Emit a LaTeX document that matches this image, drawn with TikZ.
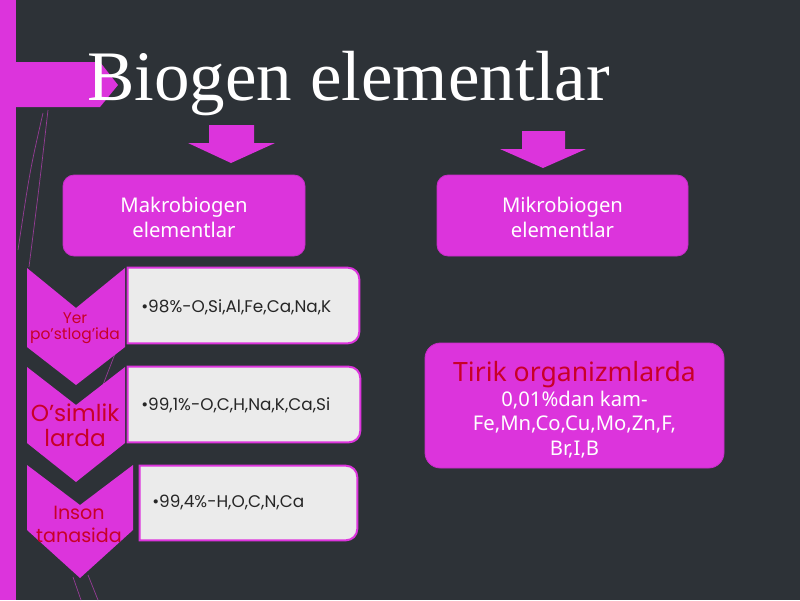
\documentclass[tikz,border=0pt]{standalone}
\usepackage{fontspec}
\setmainfont{Liberation Serif}
\newfontfamily\notosans{Noto Sans}
\newfontfamily\poppins{Poppins}
\usetikzlibrary{positioning, fit}
\definecolor{slatebg}{RGB}{45,50,55}
\definecolor{mymagenta}{RGB}{220,52,220}
\definecolor{myedge}{RGB}{200,45,200}
\definecolor{myred}{RGB}{200,0,40}
\definecolor{mygray}{RGB}{235,235,235}
\definecolor{mywisp}{RGB}{150,60,150}
\tikzset{
  mbox/.style={rectangle, draw=myedge, fill=mymagenta, rounded corners=8pt,
    line width=0.6pt, inner sep=0pt},
  mtext/.style={inner sep=0pt, text=white, align=center,
    font=\notosans\fontsize{14.4}{17.5}\selectfont},
  gbox/.style={fill=mygray, draw=mymagenta, line width=1.4pt},
  chev/.style={fill=mymagenta},
  chevtext/.style={text=myred, align=center, inner sep=0pt},
  itemtext/.style={anchor=west, inner sep=0pt, text=black!85,
    font=\poppins\fontsize{12}{14}\selectfont},
  wisp/.style={draw=mywisp, line width=0.5pt}
}
\begin{document}
\begin{tikzpicture}[x=0.025cm, y=-0.025cm]
  \fill[slatebg] (0,0) rectangle (800,600);
  \useasboundingbox (0,0) rectangle (800,600);

  % thin background strokes
  \draw[wisp] (48,110) .. controls (40,180) .. (29,267);
  \draw[wisp] (43,113) .. controls (30,170) .. (18,250);
  \draw[wisp] (123,333) -- (101,390);
  \draw[wisp] (73,577) -- (81,600);
  \draw[wisp] (88,575) -- (98,600);

  % side bars
  \fill[mymagenta] (0,0) rectangle (16,600);
  \fill[mymagenta] (16,62) -- (100,62) -- (118,85) -- (100,107) -- (16,107) -- cycle;

  \node[anchor=base west, inner sep=0pt, text=white,
    font=\fontsize{50.5}{56}\selectfont] (title) at (87,100) {Biogen elementlar};

  % down arrows
  \fill[mymagenta] (209,125) -- (254,125) -- (254,143) -- (275,143) -- (231,163)
    -- (188,143) -- (209,143) -- cycle;
  \fill[mymagenta] (522,131) -- (565,131) -- (565,149) -- (586,149) -- (543,168)
    -- (500,149) -- (522,149) -- cycle;

  \node[mbox, fit={(63,175) (305,256)}] (makro) {};
  \node[mbox, fit={(437,175) (688,256)}] (mikro) {};
  \node[mtext] (makrolbl) at (184,217.5) {Makrobiogen\\elementlar};
  \node[mtext] (mikrolbl) at (562.5,217.5) {Mikrobiogen\\elementlar};

  % chevrons
  \fill[chev] (27,268) -- (76,308) -- (125,268) -- (125,347) -- (76,385) -- (27,347) -- cycle;
  \fill[chev] (27,367) -- (76,405) -- (125,367) -- (125,443) -- (76,482) -- (27,443) -- cycle;
  \fill[chev] (27,465) -- (80,505) -- (133,465) -- (133,530) -- (80,578) -- (27,530) -- cycle;

  \node[chevtext, font=\poppins\fontsize{11}{11.6}\selectfont] (yer) at (75,328) {Yer\\po’stlog’ida};
  \node[chevtext, font=\poppins\fontsize{16.5}{18}\selectfont] (osim) at (75,425) {O’simlik\\larda};
  \node[chevtext, font=\poppins\fontsize{13.6}{16.4}\selectfont] (inson) at (79,524) {Inson\\tanasida};

  % element lists
  \node[fit={(128,268) (359,343)}, inner sep=0pt] (w1) {};
  \node[fit={(128,367) (360,442)}, inner sep=0pt] (w2) {};
  \node[fit={(140,466) (357,540)}, inner sep=0pt] (w3) {};
  \filldraw[gbox] (w1.north west) [rounded corners=8pt] -- (w1.north east) -- (w1.south east)
    [sharp corners] -- (w1.south west) -- cycle;
  \filldraw[gbox] (w2.north west) [rounded corners=8pt] -- (w2.north east) -- (w2.south east)
    [sharp corners] -- (w2.south west) -- cycle;
  \filldraw[gbox] (w3.north west) [rounded corners=8pt] -- (w3.north east) -- (w3.south east)
    [sharp corners] -- (w3.south west) -- cycle;

  \node[itemtext] (t1) at (141,307) {•98\%-O,Si,Al,Fe,Ca,Na,K};
  \node[itemtext] (t2) at (141,405) {•99,1\%-O,C,H,Na,K,Ca,Si};
  \node[itemtext] (t3) at (152,502) {•99,4\%-H,O,C,N,Ca};

  \node[mbox, rounded corners=11pt, fit={(425,343) (724,468)}] (tirik) {};
  \node[mtext] (tiriklbl) at (574.5,409.5)
    {{\color{myred}\fontsize{18.9}{22}\selectfont Tirik organizmlarda}\\
     0,01\%dan kam-\\Fe,Mn,Co,Cu,Mo,Zn,F,\\Br,I,B};
\end{tikzpicture}
\end{document}
